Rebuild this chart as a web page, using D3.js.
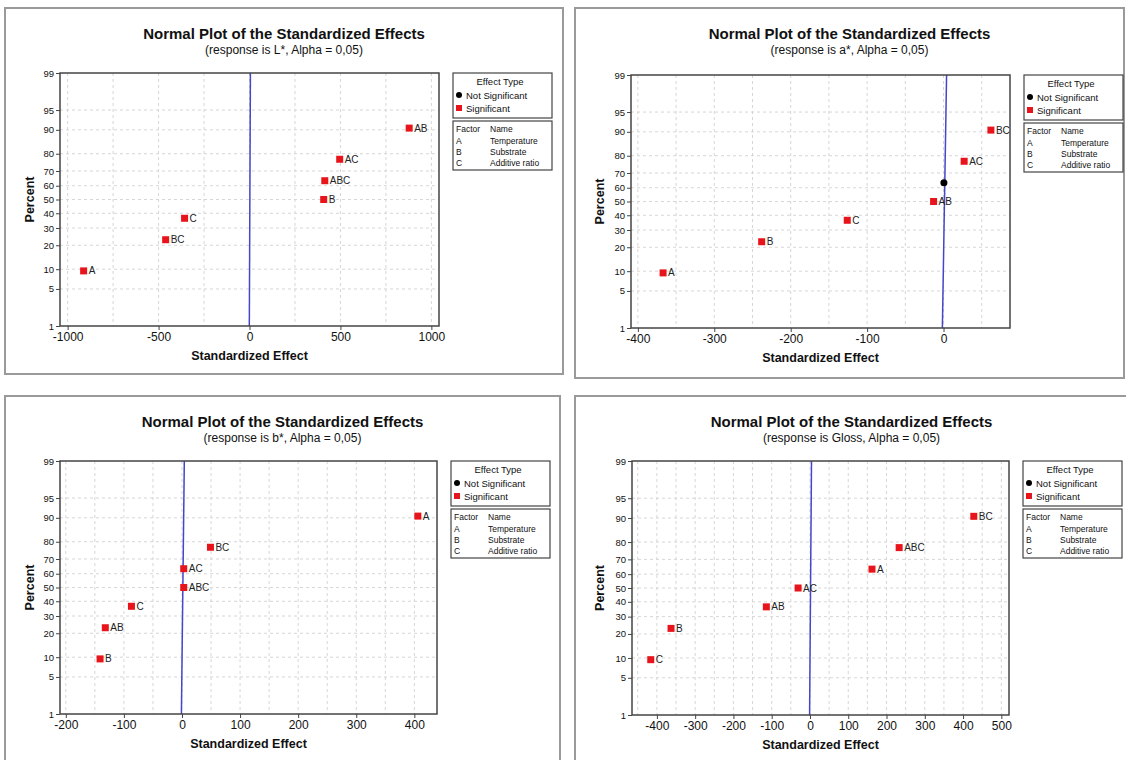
<!DOCTYPE html>
<html>
<head>
<meta charset="utf-8">
<script src="https://cdn.jsdelivr.net/npm/d3@7"></script>
<style>
    body { margin: 0; background: #ffffff; }
    svg { display: block; font-family: "Liberation Sans", Arial, sans-serif; }
</style>
</head>
<body>
<svg id="chart" width="1126" height="760"></svg>
<script>

var responses = ["L*", "a*", "b*", "Gloss"];

var percents = [9.46, 22.97, 36.49, 50, 63.51, 77.03, 90.54];

var lEffects = [-912, -461, -357, 408, 414, 496, 878];
var lLabels = ["A", "BC", "C", "B", "ABC", "AC", "AB"];
var lSignificant = [true, true, true, true, true, true, true];

var aEffects = [-367, -238, -126, -13, 0.5, 27, 62];
var aLabels = ["A", "B", "C", "AB", "ABC", "AC", "BC"];
var aSignificant = [true, true, true, true, false, true, true];

var bEffects = [-141, -132, -87, 3, 3, 49, 406];
var bLabels = ["B", "AB", "C", "ABC", "AC", "BC", "A"];
var bSignificant = [true, true, true, true, true, true, true];

var glossEffects = [-416, -363, -114, -31, 162, 233, 428];
var glossLabels = ["C", "B", "AB", "AC", "A", "ABC", "BC"];
var glossSignificant = [true, true, true, true, true, true, true];

// reference line: effect value at 1% and at 99%
var refLines = [[-1, 5], [-1.5, 4], [-1, 4], [-1, 4]];

var xDomains = [[-1042, 1042], [-409, 87], [-210, 439], [-465, 520]];
var xTicks = [
    [-1000, -500, 0, 500, 1000],
    [-400, -300, -200, -100, 0],
    [-200, -100, 0, 100, 200, 300, 400],
    [-400, -300, -200, -100, 0, 100, 200, 300, 400, 500]
];
var xGridSteps = [250, 50, 50, 50];

var yTicks = [1, 5, 10, 20, 30, 40, 50, 60, 70, 80, 90, 95, 99];

var factors = ["A", "B", "C"];
var factorNames = ["Temperature", "Substrate", "Additive ratio"];

var effectTypes = ["Not Significant", "Significant"];

// panel frames and plot rectangles
var frames = [[5, 8, 558, 366], [575, 8, 549, 370], [5, 396, 555, 380], [575, 396, 553, 380]];
var plots = [[60, 73, 379, 253], [631, 75, 379, 253], [60, 461, 377, 253], [632, 461, 377, 254]];

var RED = "#e8141b";
var BLUE = "#4646c8";

// inverse normal cdf (Acklam)
function probit(p){
    var a = [-3.969683028665376e+01, 2.209460984245205e+02, -2.759285104469687e+02, 1.383577518672690e+02, -3.066479806614716e+01, 2.506628277459239e+00];
    var b = [-5.447609879822406e+01, 1.615858368580409e+02, -1.556989798598866e+02, 6.680131188771972e+01, -1.328068155288572e+01];
    var c = [-7.784894002430293e-03, -3.223964580411365e-01, -2.400758277161838e+00, -2.549732539343734e+00, 4.374664141464968e+00, 2.938163982698783e+00];
    var d = [7.784695709041462e-03, 3.224671290700398e-01, 2.445134137142996e+00, 3.754408661907416e+00];
    var q, r;
    if(p < 0.02425){
        q = Math.sqrt(-2 * Math.log(p));
        return (((((c[0]*q+c[1])*q+c[2])*q+c[3])*q+c[4])*q+c[5]) / ((((d[0]*q+d[1])*q+d[2])*q+d[3])*q+1);
    } else if(p > 1 - 0.02425){
        q = Math.sqrt(-2 * Math.log(1 - p));
        return -(((((c[0]*q+c[1])*q+c[2])*q+c[3])*q+c[4])*q+c[5]) / ((((d[0]*q+d[1])*q+d[2])*q+d[3])*q+1);
    }
    q = p - 0.5;
    r = q * q;
    return (((((a[0]*r+a[1])*r+a[2])*r+a[3])*r+a[4])*r+a[5])*q / (((((b[0]*r+b[1])*r+b[2])*r+b[3])*r+b[4])*r+1);
}

function drawPanel(i, effects, labels, significant){

    var svg = d3.select('#chart');
    var f = frames[i];
    var p = plots[i];

    svg.append('rect')
        .attr('x', f[0]).attr('y', f[1])
        .attr('width', f[2]).attr('height', f[3])
        .attr('fill', '#ffffff')
        .attr('stroke', '#9a9a9a')
        .attr('stroke-width', 2);

    var x = d3.scaleLinear().domain(xDomains[i]).range([p[0], p[0] + p[2]]);
    var y = d3.scaleLinear().domain([probit(0.01), probit(0.99)]).range([p[1] + p[3], p[1]]);
    var yp = function(v){ return y(probit(v / 100)); };

    var cx = f[0] + f[2] / 2;

    svg.append('text')
        .attr('x', cx).attr('y', f[1] + 31)
        .attr('text-anchor', 'middle')
        .attr('font-size', 15).attr('font-weight', 'bold')
        .attr('fill', '#111')
        .text('Normal Plot of the Standardized Effects');

    svg.append('text')
        .attr('x', cx).attr('y', f[1] + 46)
        .attr('text-anchor', 'middle')
        .attr('font-size', 12)
        .attr('fill', '#111')
        .text('(response is ' + responses[i] + ', Alpha = 0,05)');

    // grid
    var grid = svg.append('g');
    var gridX = d3.range(Math.ceil(xDomains[i][0] / xGridSteps[i]) * xGridSteps[i], xDomains[i][1], xGridSteps[i]);
    grid.selectAll('.vg').data(gridX).enter().append('line')
        .attr('x1', d => x(d)).attr('x2', d => x(d))
        .attr('y1', p[1]).attr('y2', p[1] + p[3])
        .attr('stroke', '#d6d6d6').attr('stroke-dasharray', '3,3');
    grid.selectAll('.hg').data(yTicks.slice(1, -1)).enter().append('line')
        .attr('x1', p[0]).attr('x2', p[0] + p[2])
        .attr('y1', d => yp(d)).attr('y2', d => yp(d))
        .attr('stroke', '#d6d6d6').attr('stroke-dasharray', '3,3');

    // reference line
    svg.append('line')
        .attr('x1', x(refLines[i][0])).attr('y1', yp(1))
        .attr('x2', x(refLines[i][1])).attr('y2', yp(99))
        .attr('stroke', BLUE).attr('stroke-width', 1.5);

    svg.append('rect')
        .attr('x', p[0]).attr('y', p[1])
        .attr('width', p[2]).attr('height', p[3])
        .attr('fill', 'none')
        .attr('stroke', '#444').attr('stroke-width', 1.5);

    var xAxis = svg.append('g')
        .attr('transform', 'translate(0,' + (p[1] + p[3]) + ')')
        .call(d3.axisBottom(x).tickValues(xTicks[i]).tickFormat(d => String(d)).tickSize(4).tickPadding(2));
    xAxis.select('.domain').remove();
    xAxis.selectAll('line').attr('stroke', '#444');
    xAxis.selectAll('text').attr('font-size', 12).attr('fill', '#111').attr('font-family', '"Liberation Sans", Arial, sans-serif');

    var yAxis = svg.append('g')
        .attr('transform', 'translate(' + p[0] + ',0)')
        .call(d3.axisLeft(y).tickValues(yTicks.map(v => probit(v / 100))).tickFormat((d, k) => yTicks[k]).tickSize(4).tickPadding(2));
    yAxis.select('.domain').remove();
    yAxis.selectAll('line').attr('stroke', '#444');
    yAxis.selectAll('text').attr('font-size', 9.5).attr('fill', '#111').attr('font-family', '"Liberation Sans", Arial, sans-serif');

    svg.append('text')
        .attr('x', p[0] + p[2] / 2).attr('y', p[1] + p[3] + 34)
        .attr('text-anchor', 'middle')
        .attr('font-size', 12.5).attr('font-weight', 'bold')
        .attr('fill', '#111')
        .text('Standardized Effect');

    svg.append('text')
        .attr('transform', 'translate(' + (f[0] + 29) + ',' + (p[1] + p[3] / 2) + ') rotate(-90)')
        .attr('text-anchor', 'middle')
        .attr('font-size', 12.5).attr('font-weight', 'bold')
        .attr('fill', '#111')
        .text('Percent');

    // points
    var pts = svg.append('g');
    effects.forEach(function(e, k){
        var px = x(e);
        var py = yp(percents[k]);
        if(significant[k]){
            pts.append('rect')
                .attr('x', px - 3.5).attr('y', py - 3.5)
                .attr('width', 7).attr('height', 7)
                .attr('fill', RED);
            pts.append('text')
                .attr('x', px + 5).attr('y', py + 3.5)
                .attr('font-size', 10)
                .attr('fill', '#222')
                .text(labels[k]);
        } else {
            pts.append('circle')
                .attr('cx', px).attr('cy', py)
                .attr('r', 3.5)
                .attr('fill', '#000');
        }
    });

    // legend
    var lx = p[0] + p[2] + 14;
    var ly = p[1];
    var legend = svg.append('g');

    legend.append('rect')
        .attr('x', lx).attr('y', ly).attr('width', 99).attr('height', 45)
        .attr('fill', '#fff').attr('stroke', '#444').attr('stroke-width', 1.2);
    legend.append('text')
        .attr('x', lx + 47).attr('y', ly + 12)
        .attr('text-anchor', 'middle').attr('font-size', 9.5).attr('fill', '#111')
        .text('Effect Type');
    legend.append('circle')
        .attr('cx', lx + 6).attr('cy', ly + 22).attr('r', 3).attr('fill', '#000');
    legend.append('rect')
        .attr('x', lx + 3).attr('y', ly + 32).attr('width', 6).attr('height', 6).attr('fill', RED);
    legend.selectAll('.et').data(effectTypes).enter().append('text')
        .attr('x', lx + 13).attr('y', (d, k) => ly + 25.5 + k * 13)
        .attr('font-size', 9.5).attr('fill', '#111')
        .text(d => d);

    legend.append('rect')
        .attr('x', lx).attr('y', ly + 48).attr('width', 99).attr('height', 49)
        .attr('fill', '#fff').attr('stroke', '#444').attr('stroke-width', 1.2);
    legend.append('text')
        .attr('x', lx + 3).attr('y', ly + 59)
        .attr('font-size', 8.5).attr('fill', '#111').text('Factor');
    legend.append('text')
        .attr('x', lx + 37).attr('y', ly + 59)
        .attr('font-size', 8.5).attr('fill', '#111').text('Name');
    legend.selectAll('.fa').data(factors).enter().append('text')
        .attr('x', lx + 3).attr('y', (d, k) => ly + 71 + k * 11)
        .attr('font-size', 8.5).attr('fill', '#111')
        .text(d => d);
    legend.selectAll('.fn').data(factorNames).enter().append('text')
        .attr('x', lx + 37).attr('y', (d, k) => ly + 71 + k * 11)
        .attr('font-size', 8.5).attr('fill', '#111')
        .text(d => d);
}

drawPanel(0, lEffects, lLabels, lSignificant);
drawPanel(1, aEffects, aLabels, aSignificant);
drawPanel(2, bEffects, bLabels, bSignificant);
drawPanel(3, glossEffects, glossLabels, glossSignificant);

</script>
</body>
</html>
